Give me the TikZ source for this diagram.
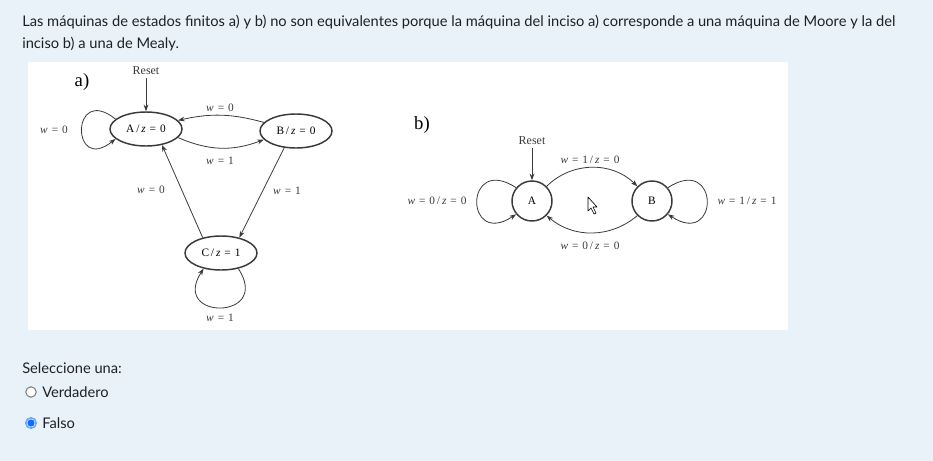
\documentclass[tikz,border=0pt]{standalone}
\usepackage{fontspec}
\setmainfont{Lato}
\newfontfamily\dserif{Liberation Serif}
\usetikzlibrary{shapes.geometric,arrows.meta}
\definecolor{bgblue}{HTML}{E8F2F8}
\definecolor{txt}{HTML}{1E2226}
\definecolor{ln}{HTML}{3A3A3A}
\definecolor{radblue}{HTML}{0D6EFD}
\definecolor{radring}{HTML}{6EA8FE}
\begin{document}
\begin{tikzpicture}[x=0.75pt,y=0.75pt,
  moorest/.style={ellipse,draw=ln,line width=1.1pt,minimum width=54pt,minimum height=25.5pt,inner sep=0pt,font=\dserif\fontsize{8.5}{9}\selectfont},
  mealyst/.style={circle,draw=ln,line width=1.1pt,minimum size=30pt,inner sep=0pt,font=\dserif\fontsize{8.5}{9}\selectfont},
  edge/.style={draw=ln,line width=0.6pt,-{Stealth[length=5pt,width=3.6pt]}},
  lbl/.style={font=\dserif\fontsize{8.5}{9}\selectfont,text=ln,inner sep=1pt},
  rst/.style={font=\dserif\fontsize{9}{10}\selectfont,text=ln,inner sep=1pt},
  part/.style={font=\dserif\fontsize{14}{15}\selectfont,text=black,inner sep=0pt},
  body/.style={font=\fontsize{11}{13}\selectfont,text=txt,inner sep=0pt,anchor=base west}]
\newcommand{\eqs}{\hspace{0.35em}=\hspace{0.35em}}
% background
\fill[bgblue] (0,0) rectangle (933,-461);
\useasboundingbox (0,0) rectangle (933,-461);
\fill[white] (28,-62) rectangle (788,-330);
% top text
\node[body] (t1) at (22,-26) {Las máquinas de estados finitos a) y b) no son equivalentes porque la máquina del inciso a) corresponde a una máquina de Moore y la del};
\node[body] (t2) at (22,-48) {inciso b) a una de Mealy.};
% ---------- a) ----------
\node[part] (la) at (82,-82) {a)};
\node[moorest] (Aa) at (146,-129) {A\,/\,\textit{z}\eqs 0};
\node[moorest] (Ba) at (296,-131) {B\,/\,\textit{z}\eqs 0};
\node[moorest] (Ca) at (221,-253) {C\,/\,\textit{z}\eqs 1};
\node[rst] (ra) at (146,-71) {Reset};
\coordinate (ra0) at (146,-78);
\draw[edge] (ra0) -- (Aa.north);
\draw[edge] (Aa.162) .. controls +(-45,36) and +(-45,-36) .. (Aa.198);
\node[lbl] (l1) at (54,-130) {\textit{w}\eqs 0};
\draw[edge] (Ba.165) to[bend right=14] (Aa.15);
\node[lbl] (l2) at (220,-108) {\textit{w}\eqs 0};
\draw[edge] (Aa.-15) to[bend right=22] (Ba.-165);
\node[lbl] (l3) at (220,-161) {\textit{w}\eqs 1};
\draw[edge] (Ca.140) -- (Aa.-45);
\node[lbl] (l4) at (151,-190) {\textit{w}\eqs 0};
\draw[edge] (Ba.-125) -- (Ca.40);
\node[lbl] (l5) at (287,-191) {\textit{w}\eqs 1};
\draw[edge] (Ca.-42) .. controls +(34,-52) and +(-34,-52) .. (Ca.-138);
\node[lbl] (l6) at (220,-318) {\textit{w}\eqs 1};
% ---------- b) ----------
\node[part] (lb) at (422,-125) {b)};
\node[mealyst] (Ab) at (532,-201) {A};
\node[mealyst] (Bb) at (652,-201) {B};
\node[rst] (rb) at (532,-141) {Reset};
\coordinate (rb0) at (532,-148);
\draw[edge] (rb0) -- (Ab.north);
\draw[edge] (Ab.140) .. controls +(-52,34) and +(-52,-34) .. (Ab.220);
\draw[edge] (Bb.40) .. controls +(52,34) and +(52,-34) .. (Bb.-40);
\draw[edge] (Ab.45) to[out=45,in=135] (Bb.135);
\draw[edge] (Bb.-135) to[out=-140,in=-40] (Ab.-45);
\node[lbl] (m1) at (590,-160) {\textit{w}\eqs 1\,/\,\textit{z}\eqs 0};
\node[lbl] (m2) at (590,-246) {\textit{w}\eqs 0\,/\,\textit{z}\eqs 0};
\node[lbl] (m3) at (437,-201) {\textit{w}\eqs 0\,/\,\textit{z}\eqs 0};
\node[lbl] (m4) at (747,-201) {\textit{w}\eqs 1\,/\,\textit{z}\eqs 1};
% mouse cursor
\draw[fill=white,draw=black,line width=0.5pt,line join=round]
  (588,-197) -- (588,-211) -- (591,-208) -- (594,-214) -- (596,-213) -- (593,-207) -- (597,-207) -- cycle;
% ---------- options ----------
\node[body] (sel) at (22,-373) {Seleccione una:};
\filldraw[fill=white,draw=gray,line width=0.8pt] (31,-392) circle (5.2);
\node[body] (v) at (42,-397) {Verdadero};
\filldraw[fill=white,draw=radring,line width=1.2pt] (31,-423) circle (5.2);
\fill[radblue] (31,-423) circle (3.6);
\node[body] (f) at (42,-428) {Falso};
\end{tikzpicture}
\end{document}
